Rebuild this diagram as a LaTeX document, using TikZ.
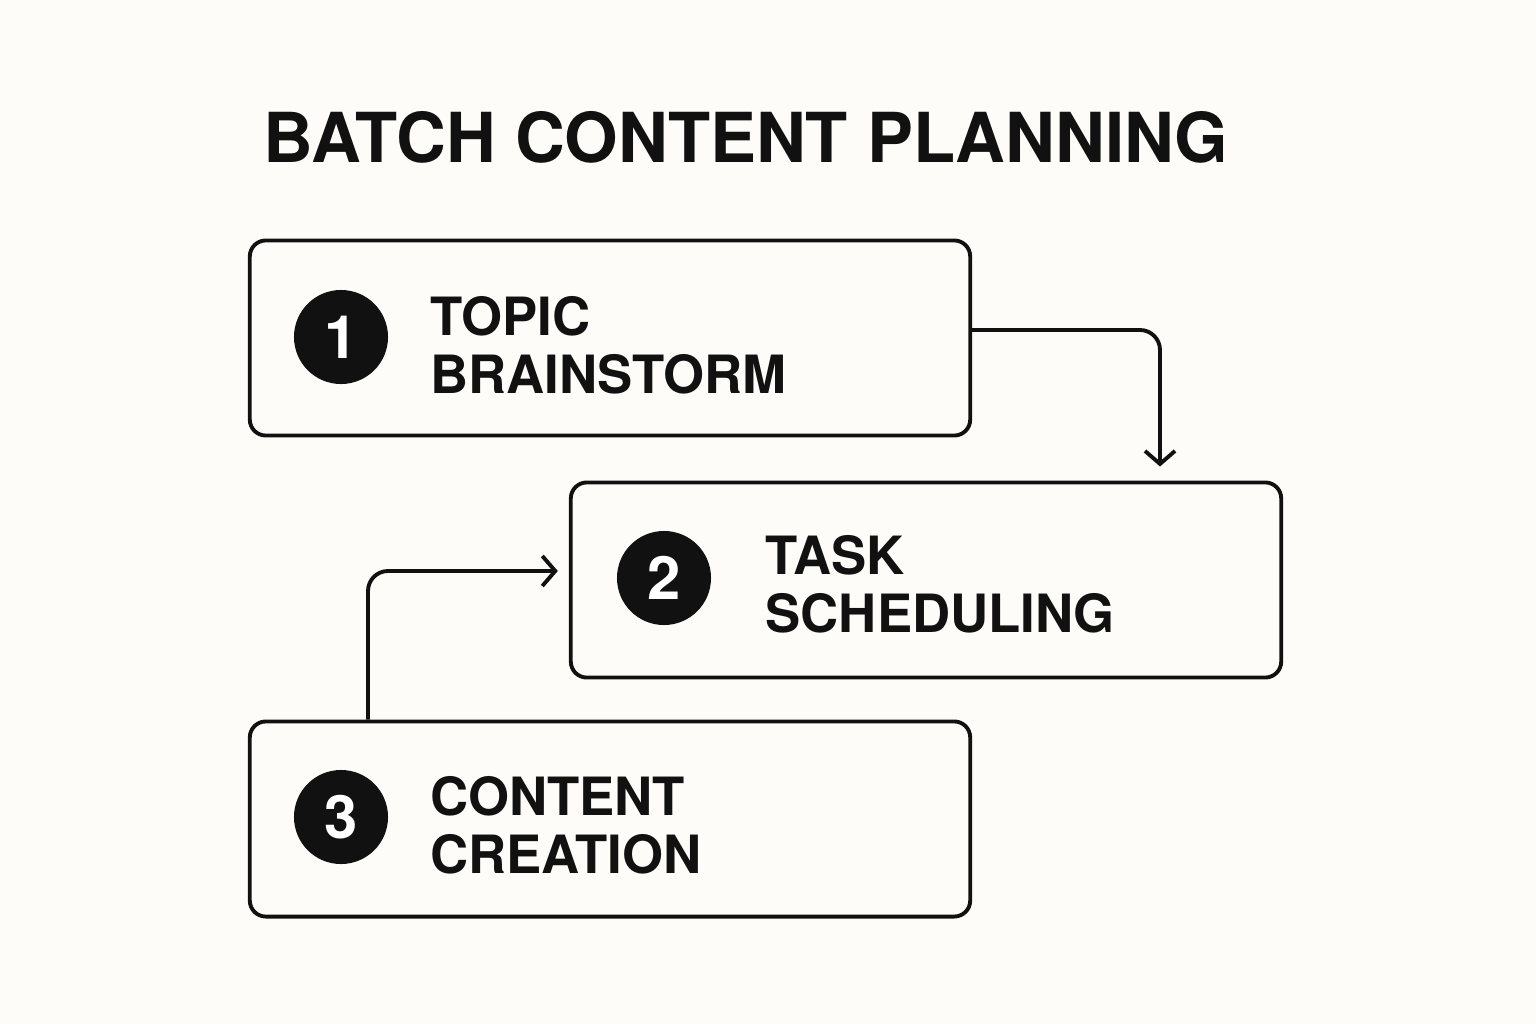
\documentclass[tikz,border=0pt]{standalone}
\usepackage{fontspec}
\setmainfont{TeX Gyre Heros}
\usetikzlibrary{arrows.meta}
\definecolor{bg}{HTML}{FDFCF8}
\definecolor{ink}{HTML}{111111}
\begin{document}
\begin{tikzpicture}[x=0.01cm,y=-0.01cm,
  box/.style={draw=ink,line width=1.1pt,rounded corners=0.16cm,minimum width=7.2cm,minimum height=1.95cm,inner sep=0pt},
  num/.style={circle,fill=ink,text=white,minimum size=0.94cm,inner sep=0pt,font=\bfseries\fontsize{17}{17}\selectfont},
  lbl/.style={anchor=west,align=left,text=ink,font=\bfseries\fontsize{15}{16.5}\selectfont},
  arr/.style={draw=ink,line width=1.1pt,rounded corners=0.2cm,-{Straight Barb[length=0.13cm,width=0.3cm,line width=1.1pt]}}]
\fill[bg] (0,0) rectangle (1536,1024);
\node[anchor=center,text=ink,font=\bfseries\fontsize{19.6}{19.6}\selectfont] (title) at (746,137) {BATCH CONTENT PLANNING};
\node[box] (b1) at (610,338) {};
\node[box,minimum width=7.1cm] (b2) at (926,580) {};
\node[box] (b3) at (610,819) {};
\node[num] (n1) at (341,337) {1};
\node[num] (n2) at (664,578) {2};
\node[num] (n3) at (341,817) {3};
\node[lbl] (t1) at (418,345) {TOPIC\\BRAINSTORM};
\node[lbl] (t2) at (753,584) {TASK\\SCHEDULING};
\node[lbl] (t3) at (418,825) {CONTENT\\CREATION};
\coordinate (c1) at (1160,330);
\coordinate (c2) at (368,571);
\draw[arr] ([yshift=0.08cm]b1.east) -- (c1) -- ([yshift=0.14cm]b2.north -| c1);
\draw[arr] (b3.north -| c2) -- (c2) -- ([xshift=-0.11cm]b2.west |- c2);
\end{tikzpicture}
\end{document}
